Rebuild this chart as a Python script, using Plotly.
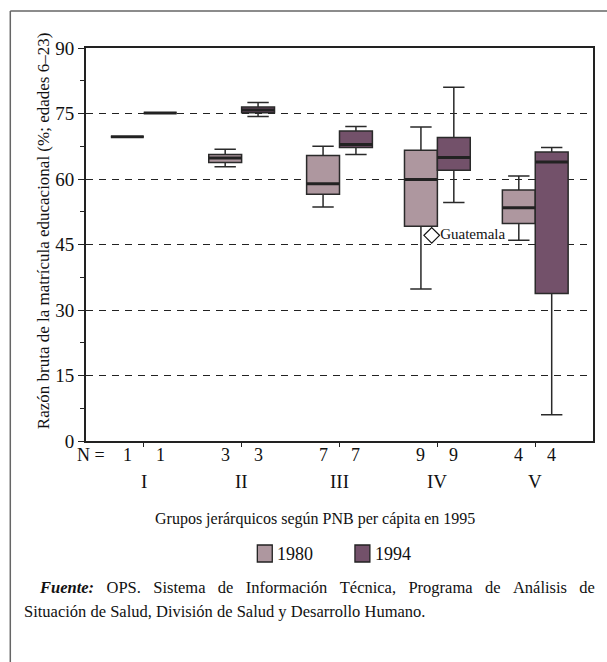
import plotly.graph_objects as go

# Income groups (GNP per capita, 1995) and number of countries per box
groups = ["I", "II", "III", "IV", "V"]
n_1980 = [1, 3, 7, 9, 4]
n_1994 = [1, 3, 7, 9, 4]

# Box statistics, gross enrolment ratio (%), ages 6-23
min_1980 = [69.7, 62.8, 53.6, 34.8, 46.0]
q1_1980 = [69.7, 63.8, 56.5, 49.2, 49.8]
med_1980 = [69.7, 64.8, 58.9, 59.9, 53.4]
q3_1980 = [69.7, 65.6, 65.4, 66.6, 57.5]
max_1980 = [69.7, 66.8, 67.5, 71.9, 60.7]

min_1994 = [75.1, 74.3, 65.6, 54.6, 6.0]
q1_1994 = [75.1, 75.2, 67.2, 62.0, 33.8]
med_1994 = [75.1, 75.8, 67.9, 64.9, 63.9]
q3_1994 = [75.1, 76.5, 71.0, 69.5, 66.2]
max_1994 = [75.1, 77.5, 72.0, 81.0, 67.2]

# Outlier
outlier_group = 3
outlier_value = 47.1
outlier_label = "Guatemala"

y_ticks = [0, 15, 30, 45, 60, 75, 90]

FONT = "Liberation Serif"
C1980 = "#ae979f"
C1994 = "#73516a"
EDGE = "#2a2a2a"

# plot area in pixels: x 86..595, y 48..441
L, R, T, B = 86, 595, 48, 441
PW, PH = R - L, B - T


def px(x):
    return (x - L) / PW


def py(y):
    return (B - y) / PH


OFF = 0.168
BW = 0.336
x80 = [i - OFF for i in range(len(groups))]
x94 = [i + OFF for i in range(len(groups))]

fig = go.Figure()


def add_box(xs, q1, med, q3, lo, hi, color, name):
    fig.add_trace(go.Box(
        x=xs, q1=q1, median=med, q3=q3, lowerfence=lo, upperfence=hi,
        width=BW, whiskerwidth=0.65, fillcolor=color,
        line=dict(color=EDGE, width=1.5), boxpoints=False,
        name=name, showlegend=False, hoverinfo="skip",
    ))
    # heavier median bars
    mx, my = [], []
    for x, m in zip(xs, med):
        mx += [x - BW / 2, x + BW / 2, None]
        my += [m, m, None]
    fig.add_trace(go.Scatter(x=mx, y=my, mode="lines",
                             line=dict(color="#222222", width=3),
                             showlegend=False, hoverinfo="skip"))


add_box(x80, q1_1980, med_1980, q3_1980, min_1980, max_1980, C1980, "1980")
add_box(x94, q1_1994, med_1994, q3_1994, min_1994, max_1994, C1994, "1994")

fig.add_trace(go.Scatter(
    x=[outlier_group - OFF + 0.11], y=[outlier_value],
    mode="markers+text", text=[outlier_label], textposition="middle right",
    textfont=dict(family=FONT, size=15, color="#111111"),
    marker=dict(symbol="diamond-open", size=12, color="#111111",
                line=dict(width=1.2)),
    showlegend=False, hoverinfo="skip",
))

annotations = []


def note(text, x, y, xref="paper", size=18, xanchor="center", **kw):
    annotations.append(dict(x=x, y=y, xref=xref, yref="paper", text=text,
                            showarrow=False, xanchor=xanchor, yanchor="middle",
                            font=dict(family=FONT, size=size, color="#111"),
                            **kw))


# N counts under each box
for xs, ns in ((x80, n_1980), (x94, n_1994)):
    for x, n in zip(xs, ns):
        note(str(n), x, py(455), xref="x", size=18)
note("N =", px(107), py(455), size=18, xanchor="right")
for i, g in enumerate(groups):
    note(g, i, py(481), xref="x", size=19)
note("Grupos jerárquicos según PNB per cápita en 1995", px(316), py(519),
     size=16)
note("Razón bruta de la matrícula educacional (%; edades 6–23)",
     px(43), py(231), size=17, textangle=-90)

# legend
shapes = []
for (lx, col, lab) in ((258, C1980, "1980"), (356, C1994, "1994")):
    shapes.append(dict(type="rect", xref="paper", yref="paper",
                       x0=px(lx), x1=px(lx + 15), y0=py(562), y1=py(545),
                       fillcolor=col, line=dict(color="#222", width=1.3)))
    note(lab, px(lx + 18), py(554), size=18, xanchor="left")

# source note
sp = "\u00a0\u00a0\u00a0"
line1 = sp.join(["<b><i>Fuente:</i></b>", "OPS.", "Sistema", "de", "Información",
                 "Técnica,", "Programa", "de", "Análisis", "de"])
note(line1, px(37), py(587), size=16.5, xanchor="left")
note("Situación de Salud, División de Salud y Desarrollo Humano.",
     px(22), py(611), size=16.5, xanchor="left")

# outer frame (top and left edges)
shapes.append(dict(type="line", xref="paper", yref="paper",
                   x0=px(10), x1=px(620), y0=py(11), y1=py(11),
                   line=dict(color="#666", width=1.5)))
shapes.append(dict(type="line", xref="paper", yref="paper",
                   x0=px(10), x1=px(10), y0=py(11), y1=py(680),
                   line=dict(color="#666", width=1.5)))

fig.update_layout(
    width=607, height=662,
    margin=dict(l=L, r=607 - R, t=T, b=662 - B),
    paper_bgcolor="white", plot_bgcolor="white",
    showlegend=False,
    font=dict(family=FONT, color="#111"),
    annotations=annotations, shapes=shapes,
)
fig.update_xaxes(range=[-0.59, 4.59], tickvals=list(range(len(groups))),
                 showticklabels=False, ticks="outside", ticklen=4,
                 tickcolor="#222", showgrid=False, zeroline=False,
                 showline=True, linecolor="#222", linewidth=2, mirror=True)
fig.update_yaxes(range=[0, 90], tickvals=y_ticks, ticks="outside", ticklen=6,
                 tickcolor="#222", tickfont=dict(family=FONT, size=19),
                 showgrid=True, gridcolor="#222", gridwidth=1.2,
                 griddash="7px,6px", zeroline=False,
                 showline=True, linecolor="#222", linewidth=2, mirror=True,
                 minor=dict(tickvals=[7.5, 22.5, 37.5, 52.5, 67.5, 82.5],
                            ticks="outside", ticklen=4, tickcolor="#222",
                            showgrid=False))

fig.write_html("out.html")
